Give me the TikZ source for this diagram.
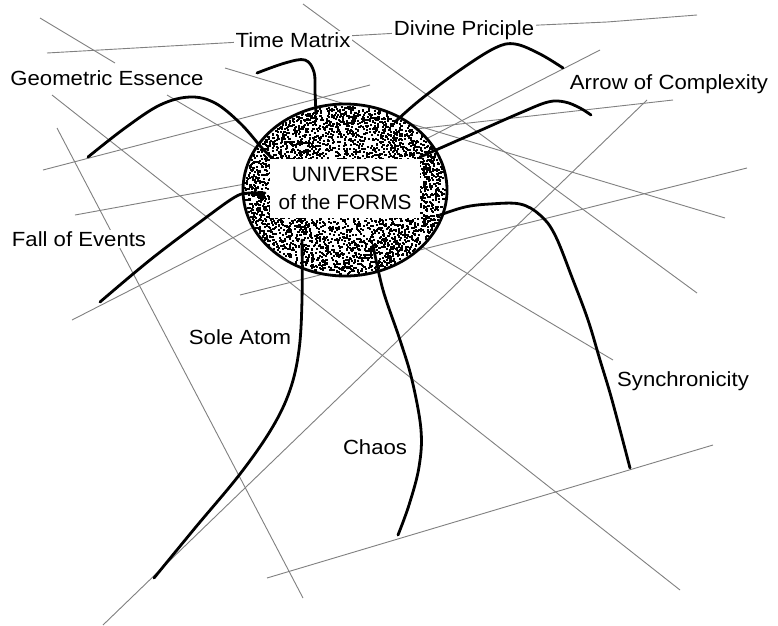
\documentclass[tikz,border=0pt]{standalone}
\usepackage{fontspec}
\setmainfont[FakeStretch=1.08]{Liberation Sans}
\newfontfamily\centrefont{Liberation Sans}
\begin{document}
\begin{tikzpicture}[x=1pt,y=-1pt,
  gridline/.style={draw=black!50, line width=0.9pt},
  leg/.style={line width=2.8pt, line cap=round, line join=round},
  lab/.style={fill=white, inner sep=1.5pt, font=\fontsize{20.5}{23}\selectfont},
  formtext/.style={fill=white, inner sep=0pt, minimum width=150pt, minimum height=59pt, align=center, font=\centrefont\fontsize{20.8}{28}\selectfont}]
\useasboundingbox[fill=white] (0,0) rectangle (778,625);
% thin grey lines
\draw[gridline] (40,18) -- (115,63);
\draw[gridline] (47,53) -- (540,25) -- (607,22) -- (697,15);
\draw[gridline] (303,4) -- (697,293);
\draw[gridline] (225,68) -- (725,218);
\draw[gridline] (52,95) -- (680,590);
\draw[gridline] (57,128) -- (303,598);
\draw[gridline] (43,170) -- (370,85);
\draw[gridline] (167,95) -- (613,360);
\draw[gridline] (75,215) -- (245,184);
\draw[gridline] (72,320) -- (600,50);
\draw[gridline] (240,295) -- (747,168);
\draw[gridline] (103,625) -- (647,100);
\draw[gridline] (267,578) -- (713,445);
\draw[gridline] (380,133) -- (673,100);
% universe ellipse with stipple
\fill[white] (345,190) ellipse [x radius=102, y radius=86];
\pgfmathsetseed{7}
\foreach \i in {1,...,3900}{
  \pgfmathsetmacro{\rr}{rnd^0.4}
  \pgfmathsetmacro{\aa}{360*rnd}
  \pgfmathsetmacro{\px}{344+100*\rr*cos(\aa)}
  \pgfmathsetmacro{\py}{189+84*\rr*sin(\aa)}
  \fill (\px,\py) rectangle ++(2,2);
}
\draw[line width=2.8pt] (345,190) ellipse [x radius=102, y radius=86];
% legs
\draw[leg] plot[smooth, tension=0.6] coordinates {(257,73) (285,63) (305,60) (314,72) (315,92) (316,114)};
\draw[leg] plot[smooth, tension=0.6] coordinates {(88,157) (125,128) (160,105) (190,97) (215,103) (240,123) (262,148) (272,158)};
\draw[leg] plot[smooth, tension=0.6] coordinates {(395,122) (420,100) (460,70) (495,48) (515,44) (540,54) (563,68)};
\draw[leg] plot[smooth, tension=0.6] coordinates {(420,157) (470,135) (520,113) (548,102) (565,102) (580,108) (591,115)};
\draw[leg] plot[smooth, tension=0.6] coordinates {(100,302) (150,260) (200,222) (235,197) (250,193) (265,193)};
\draw[leg] plot[smooth, tension=0.6] coordinates {(302,240) (302,300) (299,350) (290,390) (272,428) (240,474) (195,528) (154,578)};
\draw[leg] plot[smooth, tension=0.6] coordinates {(373,245) (383,290) (400,340) (412,380) (421,430) (419,467) (409,505) (398,535)};
\draw[leg] plot[smooth, tension=0.6] coordinates {(440,215) (465,207) (490,204) (520,204) (540,215) (555,235) (573,280) (588,320) (600,360) (612,400) (630,468)};
% central text
\node[formtext] (forms) at (345,188) {UNIVERSE\\of the FORMS};
% labels
\node[lab] (timematrix) at (293,40) {Time Matrix};
\node[lab] (divine) at (464,30) {Divine Priciple};
\node[lab] (geometric) at (107,78) {Geometric Essence};
\node[lab] (arrow) at (669,84) {Arrow of Complexity};
\node[lab] (fall) at (79,239) {Fall of Events};
\node[lab] (sole) at (240,337) {Sole Atom};
\node[lab] (chaos) at (375,447) {Chaos};
\node[lab] (sync) at (683,381) {Synchronicity};
\end{tikzpicture}
\end{document}
